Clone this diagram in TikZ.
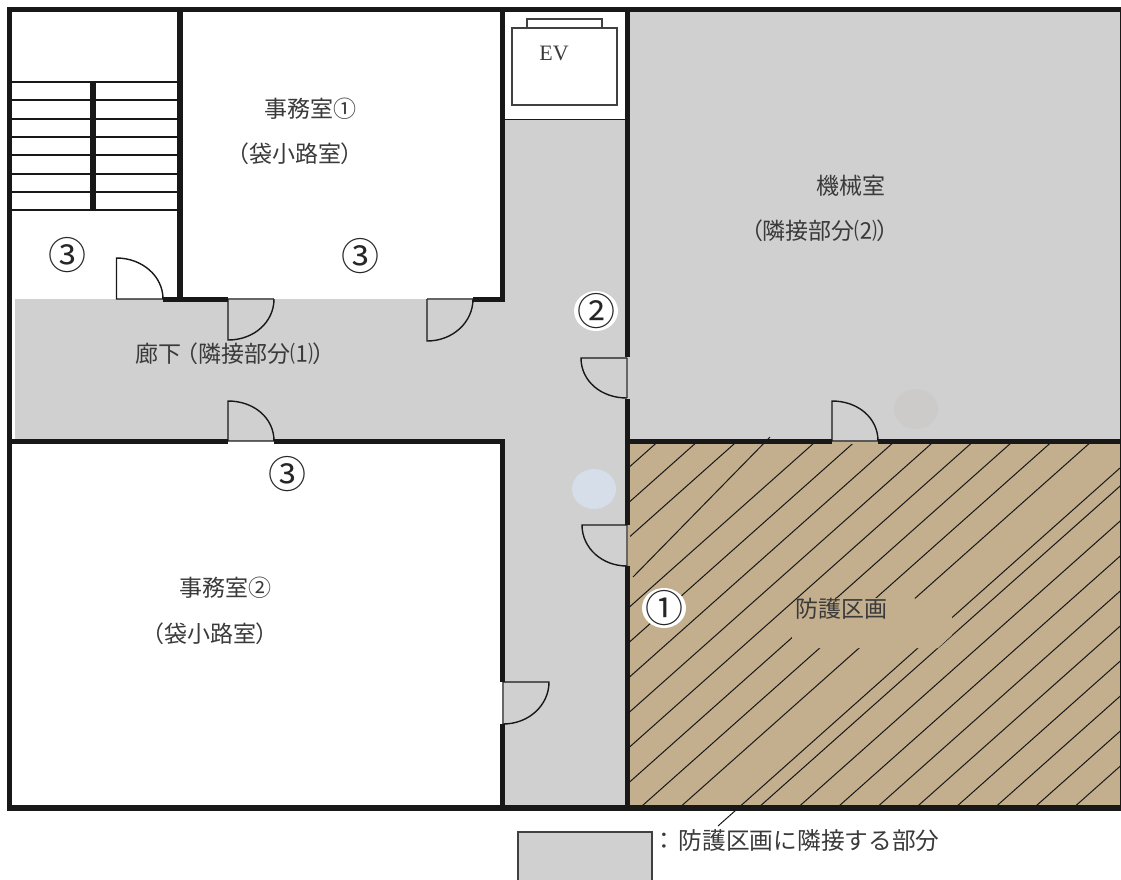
\documentclass[tikz,border=0pt]{standalone}
\usepackage{fontspec}
\setmainfont{Noto Sans CJK JP}
\newfontfamily\roomfont{Noto Sans CJK JP}[RawFeature=+palt]
\newfontfamily\evfont{Liberation Serif}
\usetikzlibrary{shapes.geometric}

\definecolor{wallcolor}{HTML}{181818}
\definecolor{graycolor}{HTML}{D0D0D0}
\definecolor{tancolor}{HTML}{C3AE8D}
\definecolor{textcolor}{HTML}{3A3A3A}
\definecolor{patchblue}{HTML}{D6DEEA}
\definecolor{patchgray}{HTML}{CDCACA}

\tikzset{
    wall/.style={draw=wallcolor, line width=5.2pt},
    door/.style={draw=wallcolor, line width=1.4pt},
    doorline/.style={draw=black!60, line width=1.1pt},
    treadline/.style={draw=wallcolor, line width=1.7pt},
    hatchline/.style={draw=wallcolor, line width=1pt},
    roomlabel/.style={inner sep=0pt, text=textcolor, font=\fontsize{23}{23}\selectfont\roomfont},
    marklabel/.style={inner sep=0pt, text=black!85, font=\fontsize{38}{38}\selectfont},
    blob/.style={ellipse, minimum width=44pt, minimum height=40pt, inner sep=0pt}
}

\begin{document}
\begin{tikzpicture}[x=1pt, y=-1pt]

    \useasboundingbox (0,0) rectangle (1121,879);
    \clip (0,0) rectangle (1121,879);

    % floor areas
    \fill [graycolor] (15,299) rectangle (505,441);
    \fill [graycolor] (503,119) rectangle (628,808);
    \fill [graycolor] (628,10) rectangle (1120,442);
    \fill [tancolor] (628,442) rectangle (1120,808);

    % hatching of the protected area
    \begin{scope}
        \clip (630,444) rectangle (1120,806);
        \foreach \k in {-10,-9,-8,-6,-5,-4,-3,-2,-1,0,1,3,4,5,6,7,8,9,10,11}
            \draw [hatchline] ({642+39.4*\k},806) -- ++(500,-444.5);
    \end{scope}
    \draw [hatchline] (633,577) -- (770,437);
    \draw [hatchline] (1120,468) -- (718,826);
    \fill [tancolor] (792,606) -- (802,598) -- (914,598) -- (952,617)
        -- (952,635) -- (938,648) -- (792,648) -- cycle;

    % patches
    \node [blob, fill=white] (patcha) at (664,608) {};
    \node [blob, fill=white] (patchb) at (596,311) {};
    \node [blob, fill=patchblue] (patchc) at (594,489) {};
    \node [blob, fill=patchgray] (patchd) at (916,409) {};

    % stairs
    \foreach \y in {82,100,119,137,155,174,192,210}
        \draw [treadline] (10,\y) -- (178,\y);
    \draw [wall] (93,82) -- (93,210);

    % elevator
    \draw [door, line width=1.2pt] (505,119.5) -- (626,119.5);
    \draw [doorline, draw=black!75] (512,28) rectangle (617,105);
    \draw [doorline, draw=black!75] (527,19) rectangle (602,28);

    % doors
    \draw [door] (116.5,299) -- (116.5,258) .. controls (142,258) and (163,276) .. (163,299) -- cycle;
    \draw [doorline] (228,299) -- (274,299);
    \draw [door] (228,299) -- (228,340) .. controls (254,340) and (274,322) .. (274,299);
    \draw [doorline] (427,299) -- (473,299);
    \draw [door] (427,299) -- (427,341) .. controls (453,341) and (473,322) .. (473,299);
    \draw [door] (274,441) .. controls (274,418) and (254,401) .. (228,401) -- (228,441) -- cycle;
    \draw [door] (878,441) .. controls (878,418) and (858,401) .. (832,401) -- (832,441) -- cycle;
    \draw [doorline] (627,358) -- (627,398);
    \draw [door] (627,358) -- (581,358) .. controls (581,381) and (601,398) .. (627,398);
    \draw [doorline] (627,525) -- (627,566);
    \draw [door] (627,525) -- (582,525) .. controls (582,548) and (602,566) .. (627,566);
    \draw [doorline] (503,682) -- (503,724);
    \draw [door] (503,682) -- (549,682) .. controls (549,705) and (529,724) .. (503,724);

    % walls
    \draw [wall] (1121,9.7) -- (9.3,9.7) -- (9.3,808) -- (1121,808);
    \draw [hatchline] (1120.5,9) -- (1120.5,808);
    \draw [wall] (180,9) -- (180,299.5);
    \draw [wall] (163,299.5) -- (228,299.5);
    \draw [wall] (473,299.5) -- (502.5,299.5);
    \draw [wall] (502.5,9) -- (502.5,302);
    \draw [wall] (9,441.5) -- (228,441.5);
    \draw [wall] (274,441.5) -- (502.5,441.5);
    \draw [wall] (502.5,439) -- (502.5,682);
    \draw [wall] (502.5,724) -- (502.5,808);
    \draw [wall] (627.5,9) -- (627.5,357);
    \draw [wall] (627.5,399) -- (627.5,525);
    \draw [wall] (627.5,566) -- (627.5,808);
    \draw [wall] (627,441.5) -- (832,441.5);
    \draw [wall] (878,441.5) -- (1121,441.5);

    % legend
    \fill [graycolor] (518,832) rectangle (652,885);
    \draw [door, draw=black!75] (518,885) -- (518,832) -- (652,832) -- (652,885);

    % labels
    \node [roomlabel] (office1) at (310,109) {事務室①};
    \node [roomlabel] (office1sub) at (295,154) {（袋小路室）};
    \node [roomlabel] (hall) at (230,354) {廊下 （隣接部分⑴）};
    \node [roomlabel] (machine) at (851,186) {機械室};
    \node [roomlabel] (machinesub) at (820,231) {（隣接部分⑵）};
    \node [roomlabel] (office2) at (225,588) {事務室②};
    \node [roomlabel] (office2sub) at (210,634) {（袋小路室）};
    \node [roomlabel] (zone) at (841,609) {防護区画};
    \node [roomlabel, font=\fontsize{22}{22}\selectfont\evfont] (ev) at (554,53) {EV};
    \node [roomlabel, font=\fontsize{23.7}{23.7}\selectfont, anchor=west] (legend) at (652,841) {：\kern3pt 防護区画に隣接する部分};

    \node [marklabel] (marka) at (664,608) {①};
    \node [marklabel] (markb) at (596,311) {②};
    \node [marklabel] (markc) at (67,255) {③};
    \node [marklabel] (markd) at (360,256) {③};
    \node [marklabel] (marke) at (287,474) {③};

\end{tikzpicture}
\end{document}
